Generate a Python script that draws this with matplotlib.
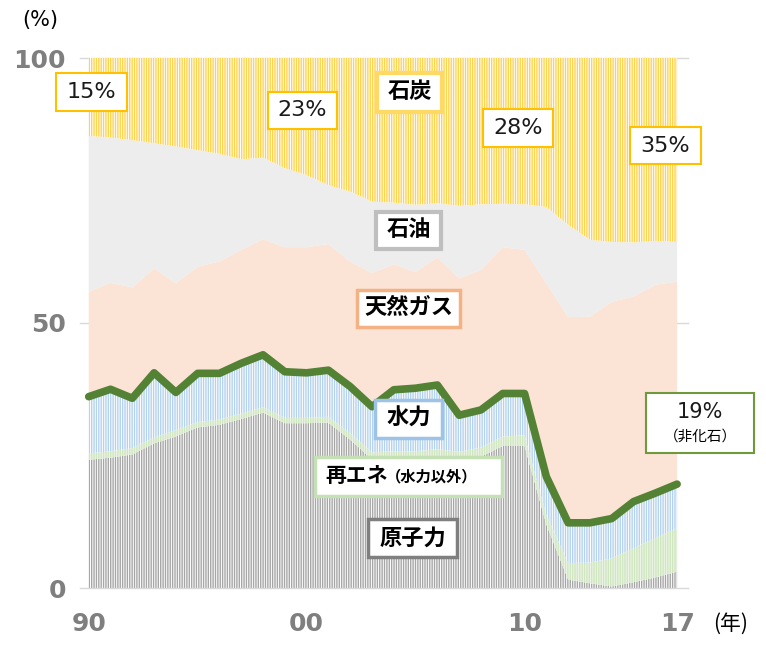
import numpy as np
import matplotlib.pyplot as plt
from matplotlib.patches import Rectangle

plt.rcParams['font.family'] = ['DejaVu Sans', 'Noto Sans CJK JP']
plt.rcParams['hatch.linewidth'] = 1.0
JP = ['Noto Sans CJK JP', 'DejaVu Sans']

# share of power generation (%), 1990-2017
years = np.arange(1990, 2018)
nuclear = [24.2, 24.6, 25.2, 27.3, 28.6, 30.3, 30.8, 31.9, 33.1, 31.1,
           31.1, 31.2, 28.0, 24.3, 24.5, 24.5, 24.8, 24.3, 24.8, 26.8,
           26.8, 12.0, 1.6, 0.9, 0.3, 1.1, 2.0, 3.1]
renewables = [1.2, 1.2, 1.2, 1.1, 1.2, 1.0, 1.0, 1.0, 1.0, 1.0,
              1.0, 1.1, 1.2, 1.3, 1.3, 1.3, 1.4, 1.4, 1.7, 1.8,
              2.0, 1.8, 3.1, 3.9, 5.3, 6.4, 7.4, 8.2]
hydro = [10.7, 11.7, 9.4, 12.2, 7.1, 9.2, 8.7, 9.5, 9.9, 8.7,
         8.5, 8.8, 8.8, 8.6, 11.6, 11.9, 12.1, 6.9, 7.1, 8.1,
         7.9, 7.2, 7.6, 7.5, 7.5, 8.8, 8.5, 8.3]
gas = [19.8, 20.1, 20.9, 19.7, 20.6, 20.1, 21.1, 21.4, 21.8, 23.5,
       23.7, 23.8, 23.6, 25.2, 23.7, 21.9, 24.1, 25.8, 26.4, 27.6,
       27.1, 36.5, 38.8, 38.9, 40.9, 38.7, 39.3, 38.2]
oil = [29.4, 27.4, 27.8, 23.6, 25.8, 22.0, 20.3, 17.1, 15.4, 14.9,
       13.6, 11.1, 13.2, 13.5, 11.6, 12.7, 10.2, 13.7, 12.4, 8.2,
       8.6, 14.4, 17.4, 14.5, 11.3, 10.2, 8.3, 7.5]
coal = [14.7, 15.0, 15.5, 16.1, 16.7, 17.4, 18.1, 19.1, 18.8, 20.8,
        22.1, 24.0, 25.2, 27.1, 27.3, 27.7, 27.4, 27.9, 27.6, 27.5,
        27.6, 28.1, 31.5, 34.3, 34.7, 34.8, 34.5, 34.7]

layers = [
    (nuclear, 'white', '#A6A6A6', '|||||||'),
    (renewables, '#EEF6E8', '#CFE6C0', '|||||||'),
    (hydro, 'white', '#B4D2EE', '|||||||'),
    (gas, '#FBE4D5', None, None),
    (oil, '#EDEDED', None, None),
    (coal, 'white', '#FFD34F', '|||||||'),
]

W, H = 766, 653
fig = plt.figure(figsize=(W / 100, H / 100), dpi=100)
ax = fig.add_axes([80 / W, 65 / H, 608 / W, 530 / H])

for y in [50, 100]:
    ax.axhline(y, color='#D9D9D9', lw=1, zorder=0, clip_on=False)

bottom = np.zeros(len(years))
for vals, fc, hc, hatch in layers:
    top = bottom + np.array(vals)
    if hatch:
        ax.fill_between(years, bottom, top, facecolor=fc, edgecolor=hc,
                        hatch=hatch, linewidth=0, zorder=1)
    else:
        ax.fill_between(years, bottom, top, facecolor=fc, linewidth=0, zorder=1)
    bottom = top

ax.axhline(0, color='#D9D9D9', lw=1, zorder=2, clip_on=False)

non_fossil = np.array(nuclear) + np.array(renewables) + np.array(hydro)
ax.plot(years, non_fossil, color='#548235', lw=5.5, solid_joinstyle='round',
        solid_capstyle='round', zorder=3)

ax.set_xlim(1989.6, 2017.5)
ax.set_ylim(0, 100)
for s in ax.spines.values():
    s.set_visible(False)
ax.set_xticks([1990, 2000, 2010, 2017], ['90', '00', '10', '17'])
ax.set_yticks([0, 50, 100], ['0', '50', '100'])
ax.tick_params(length=0, labelsize=18, labelcolor='#7F7F7F')
ax.tick_params(axis='y', pad=10)
ax.tick_params(axis='x', pad=17)
for t in ax.get_xticklabels() + ax.get_yticklabels():
    t.set_fontweight('bold')


def box(x0, y0, x1, y1, ec, lw):
    fig.add_artist(Rectangle((x0 / W, 1 - y1 / H), (x1 - x0) / W, (y1 - y0) / H,
                             transform=fig.transFigure, facecolor='white',
                             edgecolor=ec, lw=lw, zorder=5))


def txt(x, y, s, size, bold=False, ha='center'):
    fig.text(x / W, 1 - y / H, s, ha=ha, va='center', fontsize=size,
             fontweight='bold' if bold else 'normal', family=JP, zorder=6)


# coal share labels
for (x0, y0, x1, y1), s in zip([(56, 73, 127, 111), (268, 92, 337, 129),
                                (483, 109, 553, 147), (630, 127, 701, 164)],
                               ['15%', '23%', '28%', '35%']):
    box(x0, y0, x1, y1, '#FFC000', 1.5)
    fig.text((x0 + x1) / 2 / W, 1 - (y0 + y1) / 2 / H, s, ha='center',
             va='center', fontsize=16, color='#1a1a1a', zorder=6)

box(377, 73, 442, 112, '#FFD966', 3)
txt(409.5, 92, '石炭', 16, True)
box(376, 212, 441, 249, '#BFBFBF', 3)
txt(408.5, 230, '石油', 16, True)
box(357, 290, 460, 327, '#F4B183', 2.5)
txt(408.5, 308, '天然ガス', 16, True)
box(375, 400, 442, 438, '#9DC3E6', 2.5)
txt(408.5, 418, '水力', 16, True)
box(315, 457, 502, 496, '#C5E0B4', 2.5)
txt(325, 476, '再エネ', 15, True, ha='left')
txt(386, 476, '（水力以外）', 11, True, ha='left')
box(368, 519, 457, 557, '#7F7F7F', 2.5)
txt(412.5, 538, '原子力', 16, True)

box(646, 393, 754, 453, '#6E9A3C', 1.5)
fig.text(700 / W, 1 - 412 / H, '19%', ha='center', va='center', fontsize=15,
         color='#1a1a1a', zorder=6)
txt(700, 437, '（非化石）', 10.5)

fig.text(40 / W, 1 - 20 / H, '(%)', ha='center', va='center', fontsize=15)
txt(731, 624, '(年)', 15)

fig.savefig('out.png', dpi=100)
